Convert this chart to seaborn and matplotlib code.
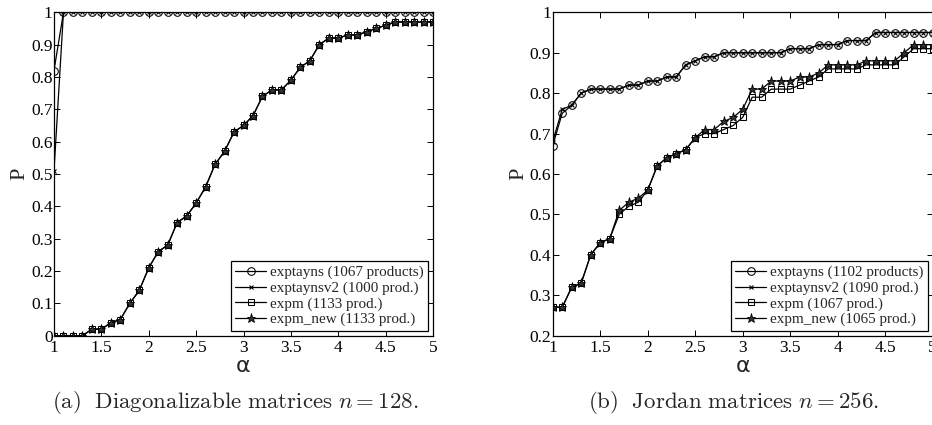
import numpy as np
import pandas as pd
import matplotlib
matplotlib.use("Agg")
import matplotlib.pyplot as plt
import seaborn as sns

# alpha grid (1.0 .. 5.0, step 0.1)
alpha = [round(1 + 0.1 * i, 1) for i in range(41)]

# (a) Diagonalizable matrices n = 128
diag_exptayns = [0.82] + [1.0] * 40
diag_exptaynsv2 = [0.51] + [1.0] * 40
diag_expm = [0, 0, 0, 0, 0.02, 0.02, 0.04, 0.05, 0.10, 0.14,
             0.21, 0.26, 0.28, 0.35, 0.37, 0.41, 0.46, 0.53, 0.57, 0.63,
             0.65, 0.68, 0.74, 0.76, 0.76, 0.79, 0.83, 0.85, 0.90, 0.92,
             0.92, 0.93, 0.93, 0.94, 0.95, 0.96, 0.97, 0.97, 0.97, 0.97, 0.97]
diag_expm_new = list(diag_expm)

# (b) Jordan matrices n = 256
jord_exptayns = [0.67, 0.75, 0.77, 0.80, 0.81, 0.81, 0.81, 0.81, 0.82, 0.82,
                 0.83, 0.83, 0.84, 0.84, 0.87, 0.88, 0.89, 0.89, 0.90, 0.90,
                 0.90, 0.90, 0.90, 0.90, 0.90, 0.91, 0.91, 0.91, 0.92, 0.92,
                 0.92, 0.93, 0.93, 0.93, 0.95, 0.95, 0.95, 0.95, 0.95, 0.95, 0.95]
jord_exptaynsv2 = [0.68, 0.76] + jord_exptayns[2:]
jord_expm = [0.27, 0.27, 0.32, 0.33, 0.40, 0.43, 0.44, 0.50, 0.52, 0.53,
             0.56, 0.62, 0.64, 0.65, 0.66, 0.69, 0.70, 0.70, 0.71, 0.72,
             0.74, 0.79, 0.79, 0.81, 0.81, 0.81, 0.82, 0.83, 0.84, 0.86,
             0.86, 0.86, 0.86, 0.87, 0.87, 0.87, 0.87, 0.89, 0.91, 0.91, 0.91]
jord_expm_new = [0.27, 0.27, 0.32, 0.33, 0.40, 0.43, 0.44, 0.51, 0.53, 0.54,
                 0.56, 0.62, 0.64, 0.65, 0.66, 0.69, 0.71, 0.71, 0.73, 0.74,
                 0.76, 0.81, 0.81, 0.83, 0.83, 0.83, 0.84, 0.84, 0.85, 0.87,
                 0.87, 0.87, 0.87, 0.88, 0.88, 0.88, 0.88, 0.90, 0.92, 0.92, 0.92]

labels_a = ['exptayns (1067 products)', 'exptaynsv2 (1000 prod.)',
            'expm (1133 prod.)', 'expm_new (1133 prod.)']
labels_b = ['exptayns (1102 products)', 'exptaynsv2 (1090 prod.)',
            'expm (1067 prod.)', 'expm_new (1065 prod.)']

sns.set_theme(style="ticks")
plt.rcParams.update({
    'font.family': ['Liberation Serif', 'DejaVu Serif'],
    'mathtext.fontset': 'cm',
    'axes.linewidth': 0.9,
    'axes.edgecolor': 'black',
    'xtick.color': 'black', 'ytick.color': 'black',
    'xtick.labelsize': 12.5, 'ytick.labelsize': 12.5,
})

markers = [dict(marker='o', markersize=5.5, markerfacecolor='none'),
           dict(marker='x', markersize=3.5, markeredgewidth=0.8),
           dict(marker='s', markersize=5, markerfacecolor='none'),
           dict(marker='*', markersize=6.5, markerfacecolor='#333333', markeredgewidth=0.6)]

fig = plt.figure(figsize=(9.32, 4.25), dpi=100)
ax1 = fig.add_axes([54 / 932, 1 - 335.7 / 425, 379 / 932, 323.4 / 425])
ax2 = fig.add_axes([552.7 / 932, 1 - 335.7 / 425, 380 / 932, 323.4 / 425])


def draw(ax, series, labels, ylo, yticks):
    for y, lab, mk in zip(series, labels, markers):
        sns.lineplot(x=alpha, y=y, ax=ax, color='black', linewidth=0.9,
                     markeredgecolor='black', label=lab, **mk)
    ax.set_xlim(1, 5)
    ax.set_ylim(ylo, 1)
    ax.set_xticks([1, 1.5, 2, 2.5, 3, 3.5, 4, 4.5, 5])
    ax.set_xticklabels(['1', '1.5', '2', '2.5', '3', '3.5', '4', '4.5', '5'])
    ax.set_yticks(yticks)
    ax.set_yticklabels([('%g' % t) for t in yticks])
    ax.tick_params(direction='in', top=True, right=True, length=4, width=0.7, pad=3)
    ax.tick_params(axis='y', pad=1)
    ax.set_xlabel('α', fontsize=16, family='DejaVu Sans', labelpad=0)
    ax.set_ylabel('P', fontsize=16, labelpad=1)
    leg = ax.legend(loc='lower right', fontsize=10.9, frameon=True, fancybox=False,
                    edgecolor='black', framealpha=1, borderpad=0.3, labelspacing=0.12,
                    handlelength=2.0, handletextpad=0.27, borderaxespad=0.33)
    leg.get_frame().set_linewidth(0.9)


draw(ax1, [diag_exptayns, diag_exptaynsv2, diag_expm, diag_expm_new], labels_a,
     0, [round(0.1 * i, 1) for i in range(11)])
draw(ax2, [jord_exptayns, jord_exptaynsv2, jord_expm, jord_expm_new], labels_b,
     0.2, [round(0.2 + 0.1 * i, 1) for i in range(9)])

fig.text(235 / 932, 1 - 403 / 425, r'$\mathrm{(a)\ \ Diagonalizable\ matrices}\ n = 128.$',
         ha='center', va='center', fontsize=16.5)
fig.text(733 / 932, 1 - 403 / 425, r'$\mathrm{(b)\ \ Jordan\ matrices}\ n = 256.$',
         ha='center', va='center', fontsize=16.5)

fig.savefig('out.png', dpi=100)
